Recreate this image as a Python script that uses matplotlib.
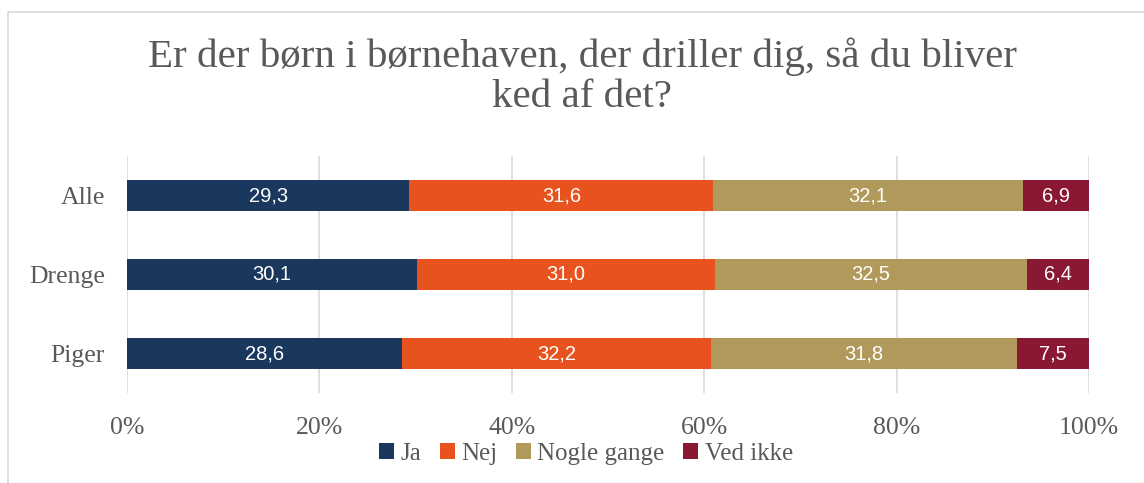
import matplotlib
matplotlib.use("Agg")
import matplotlib.pyplot as plt
from matplotlib.patches import Rectangle
import numpy as np

categories = ["Alle", "Drenge", "Piger"]
series_names = ["Ja", "Nej", "Nogle gange", "Ved ikke"]
ja = [29.3, 30.1, 28.6]
nej = [31.6, 31.0, 32.2]
nogle = [32.1, 32.5, 31.8]
ved_ikke = [6.9, 6.4, 7.5]
colors = ["#1A375E", "#E8521E", "#B0995A", "#8B1832"]
tick_labels = ["0%", "20%", "40%", "60%", "80%", "100%"]

W, H = 1144, 483
fig = plt.figure(figsize=(W / 100, H / 100), dpi=100)
serif = ["Liberation Serif", "DejaVu Serif"]

# chart border
fig.patches.append(Rectangle((8 / W, -0.1), 1.2, (H - 12) / H + 0.1, transform=fig.transFigure,
                             fill=False, edgecolor="#D9D9D9", linewidth=1.2))

ax = fig.add_axes([127 / W, 1 - 393 / H, (1089 - 127) / W, (393 - 156) / H])

data = np.array([ja, nej, nogle, ved_ikke])
totals = data.sum(axis=0)
pct = data / totals * 100
y = np.arange(len(categories))
left = np.zeros(len(categories))
for i, name in enumerate(series_names):
    bars = ax.barh(y, pct[i], left=left, height=0.4, color=colors[i], label=name, zorder=3)
    for j, b in enumerate(bars):
        ax.text(left[j] + pct[i][j] / 2, y[j], f"{data[i][j]:.1f}".replace(".", ","),
                ha="center", va="center", color="white", fontsize=14.5,
                family=["Liberation Sans", "DejaVu Sans"], zorder=4)
    left += pct[i]

ax.set_xlim(0, 100)
ax.set_ylim(2.5, -0.5)
ax.set_yticks(y)
ax.set_yticklabels(categories, family=serif, fontsize=18.5, color="#595959")
ax.set_xticks(np.arange(0, 101, 20))
ax.set_xticklabels(tick_labels, family=serif, fontsize=18.5, color="#595959")
ax.tick_params(axis="both", length=0)
ax.tick_params(axis="y", pad=16)
ax.tick_params(axis="x", pad=17)
ax.grid(axis="x", color="#D9D9D9", linewidth=1.2, zorder=0)
for s in ax.spines.values():
    s.set_visible(False)

fig.text(582 / W, 1 - 77 / H, "Er der børn i børnehaven, der driller dig, så du bliver\nked af det?",
         ha="center", va="center", family=serif, fontsize=29.5, color="#595959", linespacing=1.1)

leg = fig.legend(loc="center", bbox_to_anchor=(586 / W, 1 - 454 / H), ncol=4, frameon=False,
                 prop={"family": serif, "size": 18}, handlelength=0.6, handleheight=0.6,
                 handletextpad=0.25, columnspacing=0.75, labelcolor="#595959")

fig.savefig("out.png", dpi=100, facecolor="white")
